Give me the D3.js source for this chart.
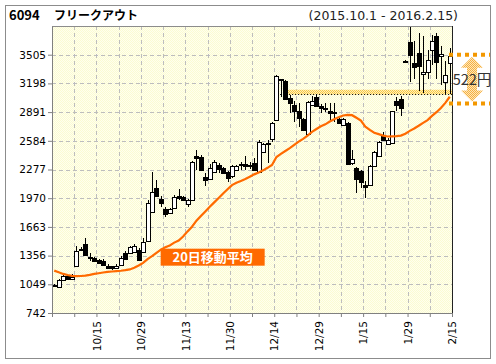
<!DOCTYPE html>
<html>
<head>
<meta charset="utf-8">
<script src="https://cdn.jsdelivr.net/npm/d3@7"></script>
<style>
  body { margin: 0; background: #fff; }
  svg { display: block; font-family: "Noto Sans CJK JP", "Noto Sans", sans-serif; }
</style>
</head>
<body>
<div id="chart"></div>
<script>
// trading days 2015.10.1 - 2016.2.15
const dates = [
  "10/1","10/2","10/5","10/6","10/7","10/8","10/9","10/13","10/14","10/15",
  "10/16","10/19","10/20","10/21","10/22","10/23","10/26","10/27","10/28","10/29",
  "10/30","11/2","11/4","11/5","11/6","11/9","11/10","11/11","11/12","11/13",
  "11/16","11/17","11/18","11/19","11/20","11/24","11/25","11/26","11/27","11/30",
  "12/1","12/2","12/3","12/4","12/7","12/8","12/9","12/10","12/11","12/14",
  "12/15","12/16","12/17","12/18","12/21","12/22","12/24","12/25","12/28","12/29",
  "12/30","1/4","1/5","1/6","1/7","1/8","1/12","1/13","1/14","1/15",
  "1/18","1/19","1/20","1/21","1/22","1/25","1/26","1/27","1/28","1/29",
  "2/1","2/2","2/3","2/4","2/5","2/8","2/9","2/10","2/12","2/15"
];
const open = [
  1045,1025,1100,1135,1100,1240,1430,1480,1345,1330,
  1305,1300,1250,1240,1220,1255,1380,1380,1400,1420,
  1400,1505,1830,2075,1960,1850,1810,1865,1990,1980,
  1910,1950,2420,2415,2195,2172,2250,2325,2290,2255,
  2200,2270,2335,2335,2315,2345,2255,2467,2565,2607,
  2806,3240,3220,3045,2967,2900,2820,2655,2970,3055,
  2955,2930,2905,2895,2820,2753,2770,2343,2295,2260,
  2108,2108,2315,2420,2640,2557,2557,3010,3035,3440,
  3640,3420,3520,3300,3315,3555,3700,3490,3220,3410
];
const high = [
  1050,1105,1145,1140,1160,1460,1450,1545,1380,1340,
  1320,1320,1265,1250,1270,1350,1400,1460,1475,1440,
  1540,1950,2250,2165,1990,1880,1870,2000,2070,1990,
  1960,2370,2486,2430,2235,2340,2380,2350,2300,2265,
  2320,2320,2360,2420,2360,2400,2590,2560,2590,2790,
  3290,3250,3230,3070,3010,2990,2830,3010,3060,3085,
  2975,2990,2990,2990,2840,2830,2780,2490,2300,2270,
  2155,2320,2470,2580,2680,2610,2905,3050,3060,3445,
  3900,3650,3740,3700,3560,3720,3740,3600,3440,3580
];
const low = [
  1030,1020,1095,1100,1095,1230,1400,1350,1300,1290,
  1265,1250,1215,1205,1210,1250,1310,1370,1390,1300,
  1390,1500,1820,1980,1880,1770,1800,1850,1950,1940,
  1880,1945,2275,2270,2100,2160,2240,2240,2225,2140,
  2190,2260,2270,2270,2280,2260,2250,2450,2345,2570,
  2800,3050,3020,2880,2790,2730,2690,2640,2960,2950,
  2880,2890,2800,2780,2770,2745,2320,2330,2025,2075,
  1975,2100,2310,2410,2580,2550,2550,2900,2850,3435,
  3210,3250,3117,3100,3250,3400,3250,3180,3080,3080
];
const close = [
  1035,1100,1138,1105,1125,1400,1415,1360,1330,1300,
  1275,1255,1225,1215,1245,1325,1316,1445,1460,1316,
  1505,1915,2040,1985,1915,1795,1855,1980,1965,1950,
  1950,2360,2400,2280,2165,2290,2360,2280,2236,2195,
  2310,2310,2325,2315,2330,2275,2575,2550,2550,2778,
  3278,3225,3030,2990,2905,2830,2700,3000,3010,2955,
  2930,2920,2885,2888,2780,2820,2333,2385,2172,2143,
  2082,2315,2465,2570,2600,2595,2900,2967,2940,3440,
  3500,3380,3380,3320,3448,3655,3420,3510,3290,3490
];
// 20日移動平均
const ma20 = [
  1195,1178,1160,1148,1140,1137,1138,1142,1150,1160,
  1167,1175,1181,1186,1190,1194,1200,1208,1225,1250,
  1278,1318,1350,1385,1420,1445,1465,1495,1518,1560,
  1615,1665,1730,1780,1828,1878,1925,1972,2020,2065,
  2110,2135,2155,2175,2200,2225,2245,2268,2295,2325,
  2410,2445,2475,2505,2540,2575,2605,2640,2680,2710,
  2740,2760,2790,2815,2835,2855,2862,2858,2830,2800,
  2735,2700,2670,2655,2640,2630,2632,2635,2640,2660,
  2690,2715,2745,2775,2805,2850,2890,2935,2990,3055
];
const yTicks = [742, 1049, 1356, 1663, 1970, 2277, 2584, 2891, 3198, 3505];
const tickDates = ["10/15", "10/29", "11/13", "11/30", "12/14", "12/29", "1/15", "1/29", "2/15"];
const resistance = 3080;
const gapTop = 3505;
const gapYen = 522;

const width = 496, height = 364;
const margin = { top: 26, right: 44, bottom: 51, left: 52 };
const innerW = width - margin.left - margin.right;
const innerH = height - margin.top - margin.bottom;

const svg = d3.select("#chart").append("svg")
  .attr("width", width).attr("height", height);

const defs = svg.append("defs");
const dither = (id, a, b) => {
  const p = defs.append("pattern").attr("id", id)
    .attr("width", 2).attr("height", 2).attr("patternUnits", "userSpaceOnUse");
  p.append("rect").attr("width", 2).attr("height", 2).attr("fill", b);
  p.append("rect").attr("width", 1).attr("height", 1).attr("fill", a);
  p.append("rect").attr("x", 1).attr("y", 1).attr("width", 1).attr("height", 1).attr("fill", a);
};
dither("bg", "#fbfbd2", "#ffffee");
dither("band", "#f8c848", "#fff0b8");
dither("arrow", "#f6b040", "#fde7bb");
defs.append("clipPath").attr("id", "plot-clip")
  .append("rect").attr("width", innerW).attr("height", innerH);

// outer frame
svg.append("rect")
  .attr("x", 5.5).attr("y", 5.5).attr("width", 485).attr("height", 353)
  .attr("fill", "#fff").attr("stroke", "#8c8c8c");

// title
svg.append("text").attr("x", 9).attr("y", 20)
  .attr("font-size", 13).attr("font-weight", "bold").attr("fill", "#000")
  .text("6094");
svg.append("text").attr("x", 54).attr("y", 20)
  .attr("font-size", 12).attr("font-weight", "bold").attr("fill", "#000")
  .text("フリークアウト");
svg.append("text").attr("x", 458).attr("y", 20)
  .attr("text-anchor", "end").attr("fill", "#222")
  .attr("font-family", "DejaVu Sans, sans-serif").attr("font-size", 12.5)
  .text("(2015.10.1 - 2016.2.15)");

const g = svg.append("g").attr("transform", `translate(${margin.left},${margin.top})`);

const x = d3.scaleLinear().domain([0, dates.length]).range([0, innerW]);
const y = d3.scaleLinear().domain([742, 3812]).range([innerH, 0]);

g.append("rect").attr("width", innerW).attr("height", innerH).attr("fill", "url(#bg)");

// grid
g.append("g").selectAll("line")
  .data(yTicks.slice(1))
  .join("line")
  .attr("x1", 0).attr("x2", innerW)
  .attr("y1", d => Math.round(y(d)) + 0.5).attr("y2", d => Math.round(y(d)) + 0.5)
  .attr("stroke", "#bdbdbd").attr("stroke-dasharray", "4,3");
g.append("g").selectAll("line")
  .data(d3.range(5, dates.length, 5))
  .join("line")
  .attr("x1", d => Math.round(x(d)) + 0.5).attr("x2", d => Math.round(x(d)) + 0.5)
  .attr("y1", 0).attr("y2", innerH)
  .attr("stroke", "#bdbdbd").attr("stroke-dasharray", "4,3");

// resistance band + dotted line
const bandX = x(dates.indexOf("12/17"));
g.append("rect")
  .attr("x", bandX + 2).attr("y", y(resistance + 50))
  .attr("width", innerW - bandX - 2).attr("height", y(resistance) - y(resistance + 50))
  .attr("fill", "url(#band)");
g.append("line")
  .attr("x1", bandX - 3).attr("x2", innerW)
  .attr("y1", Math.round(y(resistance)) + 0.5).attr("y2", Math.round(y(resistance)) + 0.5)
  .attr("stroke", "#000").attr("stroke-dasharray", "1,2");

// candles
const candles = dates.map((d, i) => ({ d, i, o: open[i], h: high[i], l: low[i], c: close[i] }));
const cg = g.append("g").attr("clip-path", "url(#plot-clip)").attr("shape-rendering", "crispEdges");
const cx = d => Math.round(x(d.i + 0.5));
cg.selectAll("line.wick")
  .data(candles)
  .join("line")
  .attr("class", "wick")
  .attr("x1", d => cx(d) + 0.5).attr("x2", d => cx(d) + 0.5)
  .attr("y1", d => y(d.h)).attr("y2", d => y(d.l))
  .attr("stroke", "#000");
cg.selectAll("rect.body")
  .data(candles)
  .join("rect")
  .attr("class", "body")
  .attr("x", d => cx(d) - 1.5)
  .attr("width", 4)
  .attr("y", d => Math.round(y(Math.max(d.o, d.c))) + 0.5)
  .attr("height", d => Math.max(1, Math.round(Math.abs(y(d.o) - y(d.c)))))
  .attr("fill", d => d.c >= d.o ? "#fff" : "#000")
  .attr("stroke", "#000");

// moving average
g.append("path")
  .datum(ma20)
  .attr("clip-path", "url(#plot-clip)")
  .attr("fill", "none")
  .attr("stroke", "#ff6a00")
  .attr("stroke-width", 2.2)
  .attr("d", d3.line().x((v, i) => x(i + 0.5)).y(v => y(v)));

// frame lines
g.append("line").attr("x1", 0).attr("x2", innerW).attr("y1", 0.5).attr("y2", 0.5).attr("stroke", "#8c8c8c");
g.append("line").attr("x1", innerW + 0.5).attr("x2", innerW + 0.5).attr("y1", 0).attr("y2", innerH).attr("stroke", "#222");

// axes
const yAxis = g.append("g")
  .call(d3.axisLeft(y).tickValues(yTicks).tickSize(4).tickSizeOuter(0).tickPadding(2)
    .tickFormat(d3.format("d")));
const xAxis = g.append("g").attr("transform", `translate(0,${innerH})`)
  .call(d3.axisBottom(x).tickValues(d3.range(0, dates.length + 1, 5)).tickSize(4).tickSizeOuter(0)
    .tickFormat(v => {
      const label = dates[v - 1];
      return tickDates.includes(label) ? label : "";
    }));
[yAxis, xAxis].forEach(a => {
  a.select(".domain").attr("stroke", "#808080");
  a.selectAll(".tick line").attr("stroke", "#808080");
  a.selectAll("text").attr("fill", "#000")
    .attr("font-family", "DejaVu Sans, sans-serif").attr("font-size", 10.5);
});
xAxis.selectAll("text")
  .attr("transform", "rotate(-90)")
  .attr("text-anchor", "end")
  .attr("x", -8).attr("y", 0).attr("dy", "0.35em");

// 20日移動平均 label
const lab = g.append("g").attr("transform", `translate(${x(dates.indexOf("11/6")) + 2},${y(1430)})`);
lab.append("rect").attr("width", 104).attr("height", 17).attr("fill", "#ff6a00");
lab.append("text").attr("x", 52).attr("y", 13.5).attr("text-anchor", "middle")
  .attr("fill", "#fff").attr("font-size", 13).attr("font-weight", "bold")
  .text("20日移動平均");

// gap annotation
const gapBottom = gapTop - gapYen;
const ax = innerW + 20, yt = y(gapTop), yb = y(gapBottom);
const ann = g.append("g");
ann.append("path")
  .attr("d", `M${ax},${yt + 2} L${ax + 11},${yt + 13} L${ax + 5},${yt + 13} L${ax + 5},${yb - 13}
    L${ax + 11},${yb - 13} L${ax},${yb - 2} L${ax - 11},${yb - 13} L${ax - 5},${yb - 13}
    L${ax - 5},${yt + 13} L${ax - 11},${yt + 13} Z`)
  .attr("fill", "url(#arrow)");
[yt, yb].forEach(yy => ann.append("line")
  .attr("x1", innerW - 3).attr("x2", innerW + 38).attr("y1", yy).attr("y2", yy)
  .attr("stroke", "#f39800").attr("stroke-width", 4).attr("stroke-dasharray", "4,4"));
ann.append("text").attr("x", ax).attr("y", (yt + yb) / 2 + 6)
  .attr("text-anchor", "middle").attr("font-size", 14.5).attr("fill", "#333")
  .text(`${gapYen}円`);
</script>
</body>
</html>
